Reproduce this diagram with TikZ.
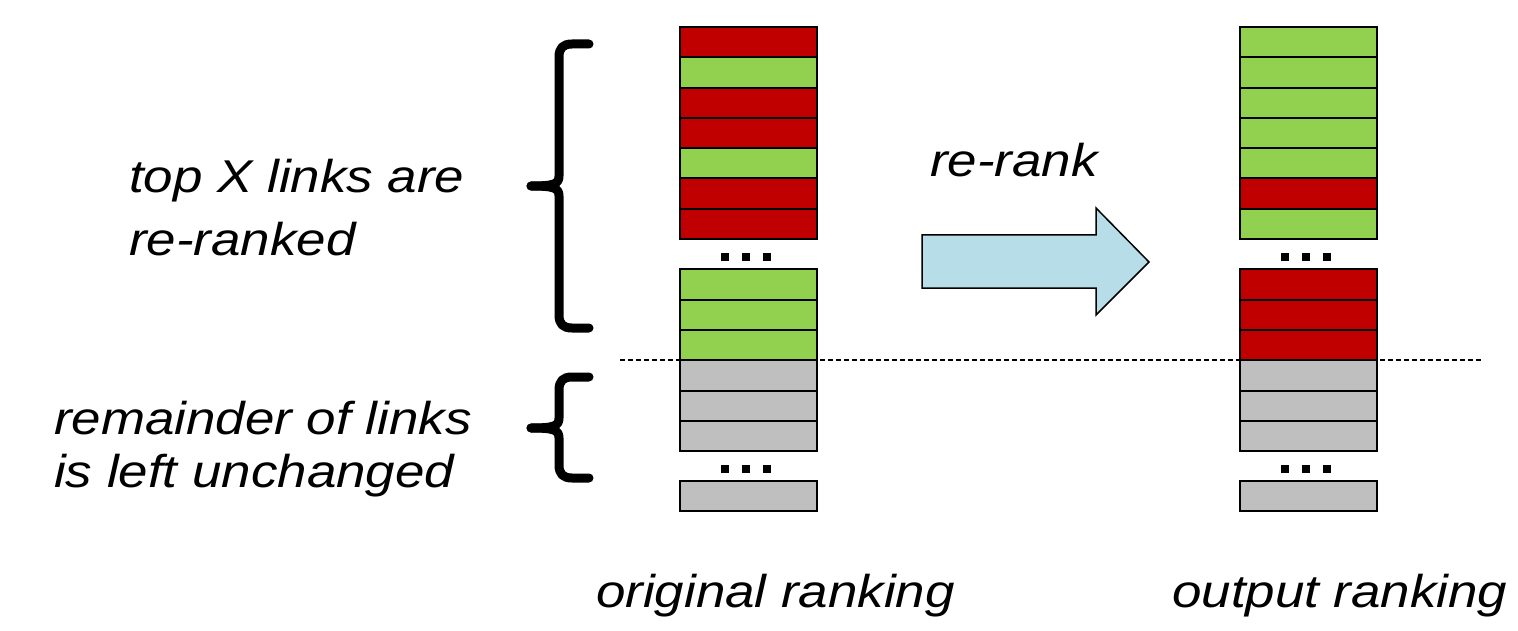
\documentclass[tikz,border=0pt]{standalone}
\usepackage{fontspec}
\newfontfamily\labelfont[FakeStretch=1.15]{Liberation Sans}
\definecolor{rankred}{HTML}{C00000}
\definecolor{rankgreen}{HTML}{92D050}
\definecolor{rankgrey}{HTML}{BFBFBF}
\definecolor{arrowblue}{HTML}{B7DEE8}
\tikzset{
  cell/.style={draw=black, line width=2pt, minimum width=137pt, minimum height=30.3pt,
               inner sep=0pt, outer sep=0pt, anchor=north west},
  dotsq/.style={fill=black, inner sep=0pt, minimum size=8pt},
  caption/.style={font=\labelfont\itshape\fontsize{46}{55}\selectfont, inner sep=0pt, anchor=base west},
  bracestroke/.style={line width=9pt, line cap=round, line join=round},
}
\begin{document}
\begin{tikzpicture}[x=1pt, y=-1pt]
\useasboundingbox (0,0) rectangle (1518,631);

% dashed separator between re-ranked part and unchanged remainder
\coordinate (sepL) at (620,360);
\coordinate (sepR) at (1482,360);
\draw[line width=1.1pt, dash pattern=on 5pt off 3pt] (sepL) -- (sepR);

% original ranking: top block
\foreach \c [count=\i] in {rankred,rankgreen,rankred,rankred,rankgreen,rankred,rankred}
  \node[cell, fill=\c] (oa\i) at (680, {27+(\i-1)*30.3}) {};
% original ranking: lower block
\foreach \c [count=\i] in {rankgreen,rankgreen,rankgreen,rankgrey,rankgrey,rankgrey}
  \node[cell, fill=\c] (ob\i) at (680, {269.3+(\i-1)*30.3}) {};
\node[cell, fill=rankgrey] (oc1) at (680, 480.7) {};

% output ranking: top block
\foreach \c [count=\i] in {rankgreen,rankgreen,rankgreen,rankgreen,rankgreen,rankred,rankgreen}
  \node[cell, fill=\c] (na\i) at (1240, {27+(\i-1)*30.3}) {};
% output ranking: lower block
\foreach \c [count=\i] in {rankred,rankred,rankred,rankgrey,rankgrey,rankgrey}
  \node[cell, fill=\c] (nb\i) at (1240, {269.3+(\i-1)*30.3}) {};
\node[cell, fill=rankgrey] (nc1) at (1240, 480.7) {};

% ellipsis squares
\foreach \dx [count=\k] in {0,21,42} {
  \node[dotsq] (od\k) at (725+\dx, 257) {};
  \node[dotsq] (oe\k) at (725+\dx, 469) {};
  \node[dotsq] (nd\k) at (1285+\dx, 257) {};
  \node[dotsq] (ne\k) at (1285+\dx, 469) {};
}

% block arrow
\draw[fill=arrowblue, line width=1.5pt, line join=miter]
  (922,235) -- (1096,235) -- (1096,208) -- (1149,262) -- (1096,315)
  -- (1096,288) -- (922,288) -- cycle;

% braces
\draw[bracestroke]
  (589,44) -- (572,44) .. controls (563,44) and (559,48) .. (559,57)
  -- (559,176) .. controls (559,184) and (554,186) .. (531,186);
\draw[bracestroke]
  (589,328) -- (572,328) .. controls (563,328) and (559,324) .. (559,315)
  -- (559,196) .. controls (559,188) and (554,186) .. (531,186);
\draw[bracestroke]
  (589,377) -- (572,377) .. controls (563,377) and (559,381) .. (559,390)
  -- (559,418) .. controls (559,426) and (554,428) .. (531,428);
\draw[bracestroke]
  (589,478) -- (572,478) .. controls (563,478) and (559,474) .. (559,465)
  -- (559,438) .. controls (559,430) and (554,428) .. (531,428);

% labels
\node[caption] (t1) at (129,193) {top X links are};
\node[caption] (t2) at (129,255) {re-ranked};
\node[caption] (t3) at (54,434) {remainder of links};
\node[caption] (t4) at (54,487) {is left unchanged};
\node[caption] (t5) at (930,177) {re-rank};
\node[caption] (t6) at (596,607) {original ranking};
\node[caption] (t7) at (1172,607) {output ranking};
\end{tikzpicture}
\end{document}
